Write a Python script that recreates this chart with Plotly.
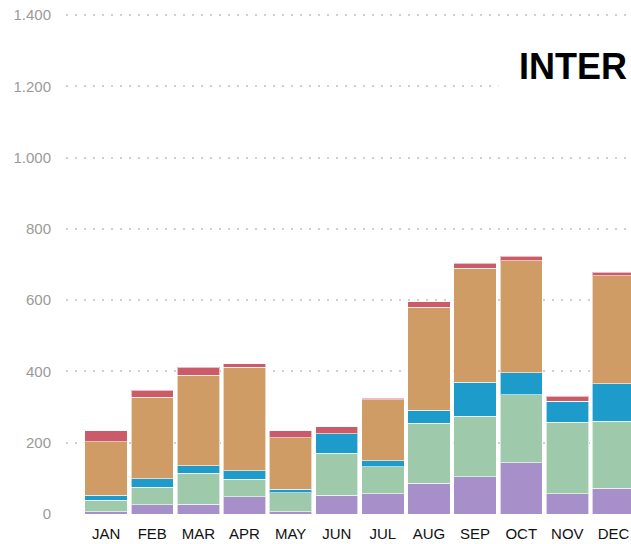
import plotly.graph_objects as go

months = ["JAN", "FEB", "MAR", "APR", "MAY", "JUN", "JUL", "AUG", "SEP", "OCT", "NOV", "DEC"]
purple = [6, 26, 27, 48, 6, 53, 57, 87, 104, 144, 57, 72]
green = [32, 49, 87, 50, 53, 118, 76, 167, 170, 191, 200, 188]
blue = [15, 24, 22, 24, 11, 54, 16, 37, 96, 62, 60, 105]
orange = [150, 229, 253, 290, 144, 0, 171, 289, 320, 313, 0, 303]
red = [30, 19, 23, 9, 20, 20, 5, 16, 13, 13, 14, 10]
y_ticks = [0, 200, 400, 600, 800, 1000, 1200, 1400]

series = [
    ("purple", purple, "#a78fc9"),
    ("green", green, "#9ec9ab"),
    ("blue", blue, "#1d9bcb"),
    ("orange", orange, "#cf9c66"),
    ("red", red, "#cb5b69"),
]

W, H = 631, 544
ML, MR, MT, MB = 66, 0, 14, 29.5

fig = go.Figure()
for name, vals, col in series:
    fig.add_trace(go.Bar(
        x=months, y=vals, name=name,
        marker=dict(color=col, line=dict(color="rgba(255,255,255,0.6)", width=1)),
        hoverinfo="skip",
    ))

fig.update_layout(
    barmode="stack",
    bargap=0.08,
    width=W, height=H,
    margin=dict(l=ML, r=MR, t=MT, b=MB),
    plot_bgcolor="white", paper_bgcolor="white",
    showlegend=False,
    separators=",.",
    font=dict(family="Liberation Sans, Arial, sans-serif"),
    xaxis=dict(
        range=[-0.87, 11.38],
        showgrid=False, zeroline=False, showline=False,
        tickfont=dict(size=15, color="#111"),
        ticks="", ticklabelstandoff=9,
    ),
    yaxis=dict(
        range=[0, 1403],
        tickvals=y_ticks, tickformat=",d",
        showgrid=True, gridcolor="#cfcfcf", gridwidth=2, griddash="2px,7px",
        zeroline=False, showline=False,
        tickfont=dict(size=15, color="#9a9a9a"),
        ticks="", ticklabelstandoff=14, ticklabeloverflow="allow",
    ),
    annotations=[dict(
        text="<b>INTER</b>", xref="paper", yref="paper",
        x=1.0, y=(H - MB - 67) / (H - MT - MB),
        xanchor="right", yanchor="middle",
        xshift=17,
        font=dict(size=36, color="#000", family="Liberation Sans, Arial, sans-serif"),
        showarrow=False, bgcolor="white", borderpad=20,
    )],
)

fig.write_html(
    "out.html",
    config={"displayModeBar": False},
    post_script="document.body.style.margin='0';document.body.style.overflow='hidden';",
)
